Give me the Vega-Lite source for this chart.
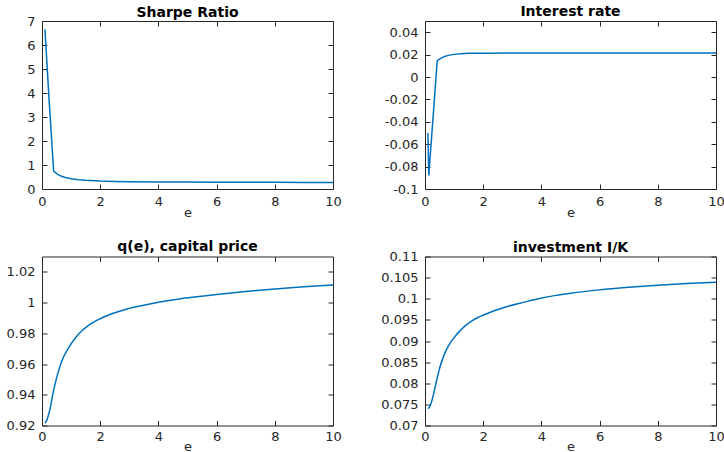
{
  "$schema": "https://vega.github.io/schema/vega-lite/v6.json",
  "padding": {"left": 5, "top": 4, "right": 5, "bottom": 5},
  "background": "white",
  "datasets": {
    "sharpe": [
      {"e": 0.1, "v": 6.65}, {"e": 0.25, "v": 3.6}, {"e": 0.4, "v": 0.75}, {"e": 0.5, "v": 0.64},
      {"e": 0.6, "v": 0.57}, {"e": 0.7, "v": 0.52}, {"e": 0.8, "v": 0.48}, {"e": 1.0, "v": 0.43},
      {"e": 1.25, "v": 0.39}, {"e": 1.5, "v": 0.36}, {"e": 2.0, "v": 0.33}, {"e": 2.5, "v": 0.315},
      {"e": 3.0, "v": 0.305}, {"e": 4.0, "v": 0.295}, {"e": 5.0, "v": 0.29}, {"e": 6.0, "v": 0.285},
      {"e": 7.0, "v": 0.28}, {"e": 8.0, "v": 0.278}, {"e": 9.0, "v": 0.275}, {"e": 10.0, "v": 0.273}
    ],
    "rate": [
      {"e": 0.1, "v": -0.05}, {"e": 0.13, "v": -0.088}, {"e": 0.42, "v": 0.0145}, {"e": 0.5, "v": 0.016},
      {"e": 0.6, "v": 0.0175}, {"e": 0.7, "v": 0.0185}, {"e": 0.8, "v": 0.0193}, {"e": 1.0, "v": 0.0202},
      {"e": 1.25, "v": 0.0208}, {"e": 1.5, "v": 0.0211}, {"e": 2.0, "v": 0.0213}, {"e": 3.0, "v": 0.0214},
      {"e": 4.0, "v": 0.0215}, {"e": 6.0, "v": 0.0215}, {"e": 8.0, "v": 0.0215}, {"e": 10.0, "v": 0.0215}
    ],
    "q": [
      {"e": 0.1, "v": 0.9215}, {"e": 0.15, "v": 0.9228}, {"e": 0.27, "v": 0.9303}, {"e": 0.38, "v": 0.9411},
      {"e": 0.5, "v": 0.9508}, {"e": 0.67, "v": 0.9615}, {"e": 0.9, "v": 0.9701}, {"e": 1.13, "v": 0.9766},
      {"e": 1.36, "v": 0.9815}, {"e": 1.6, "v": 0.9852}, {"e": 2.0, "v": 0.9895}, {"e": 2.4, "v": 0.9927},
      {"e": 2.87, "v": 0.9955}, {"e": 3.33, "v": 0.9976}, {"e": 4.0, "v": 1.0002}, {"e": 4.72, "v": 1.0024},
      {"e": 5.41, "v": 1.0039}, {"e": 6.0, "v": 1.0052}, {"e": 7.0, "v": 1.0072}, {"e": 8.0, "v": 1.0089},
      {"e": 9.0, "v": 1.0103}, {"e": 10.0, "v": 1.0115}
    ],
    "inv": [
      {"e": 0.1, "v": 0.074}, {"e": 0.15, "v": 0.0743}, {"e": 0.25, "v": 0.0762}, {"e": 0.37, "v": 0.0798},
      {"e": 0.5, "v": 0.0835}, {"e": 0.65, "v": 0.0866}, {"e": 0.8, "v": 0.0888}, {"e": 1.0, "v": 0.0908},
      {"e": 1.2, "v": 0.0924}, {"e": 1.4, "v": 0.0937}, {"e": 1.6, "v": 0.0947}, {"e": 1.8, "v": 0.0955},
      {"e": 2.0, "v": 0.0961}, {"e": 2.4, "v": 0.0972}, {"e": 2.8, "v": 0.0981}, {"e": 3.3, "v": 0.099},
      {"e": 3.9, "v": 0.1}, {"e": 4.5, "v": 0.1008}, {"e": 5.0, "v": 0.1013}, {"e": 6.0, "v": 0.1021},
      {"e": 7.0, "v": 0.1027}, {"e": 8.0, "v": 0.1032}, {"e": 9.0, "v": 0.1036}, {"e": 10.0, "v": 0.1039}
    ]
  },
  "columns": 2,
  "spacing": {"row": 19.5, "column": 38},
  "concat": [
    {
      "title": {"text": "Sharpe Ratio", "offset": -4.5},
      "width": 291, "height": 168,
      "data": {"name": "sharpe"},
      "layer": [
        {"mark": {"type": "line"}, "encoding": {
          "x": {"field": "e", "type": "quantitative", "scale": {"domain": [0, 10], "nice": false}, "axis": {"values": [0, 2, 4, 6, 8, 10], "title": "e", "labelPadding": 11, "titlePadding": -2, "labelExpr": "'' + datum.value"}},
          "y": {"field": "v", "type": "quantitative", "scale": {"domain": [0, 7], "nice": false, "zero": false}, "axis": {"values": [0, 1, 2, 3, 4, 5, 6, 7], "title": null, "labelPadding": 12, "labelExpr": "'' + datum.value"}}}},
        {"mark": {"type": "line", "opacity": 0}, "encoding": {
          "x": {"field": "e", "type": "quantitative", "scale": {"domain": [0, 10], "nice": false}, "axis": {"orient": "top", "values": [0, 2, 4, 6, 8, 10], "labels": false, "title": null}},
          "y": {"field": "v", "type": "quantitative", "scale": {"domain": [0, 7], "nice": false, "zero": false}, "axis": {"orient": "right", "values": [0, 1, 2, 3, 4, 5, 6, 7], "labels": false, "title": null}}}}
      ],
      "resolve": {"axis": {"x": "independent", "y": "independent"}}
    },
    {
      "title": {"text": "Interest rate", "offset": 2},
      "width": 291, "height": 168,
      "data": {"name": "rate"},
      "layer": [
        {"mark": {"type": "line"}, "encoding": {
          "x": {"field": "e", "type": "quantitative", "scale": {"domain": [0, 10], "nice": false}, "axis": {"values": [0, 2, 4, 6, 8, 10], "title": "e", "labelPadding": 11, "titlePadding": -2, "labelExpr": "'' + datum.value"}},
          "y": {"field": "v", "type": "quantitative", "scale": {"domain": [-0.1, 0.05], "nice": false, "zero": false}, "axis": {"values": [-0.1, -0.08, -0.06, -0.04, -0.02, 0, 0.02, 0.04], "title": null, "labelPadding": 12, "labelExpr": "'' + datum.value"}}}},
        {"mark": {"type": "line", "opacity": 0}, "encoding": {
          "x": {"field": "e", "type": "quantitative", "scale": {"domain": [0, 10], "nice": false}, "axis": {"orient": "top", "values": [0, 2, 4, 6, 8, 10], "labels": false, "title": null}},
          "y": {"field": "v", "type": "quantitative", "scale": {"domain": [-0.1, 0.05], "nice": false, "zero": false}, "axis": {"orient": "right", "values": [-0.1, -0.08, -0.06, -0.04, -0.02, 0, 0.02, 0.04], "labels": false, "title": null}}}}
      ],
      "resolve": {"axis": {"x": "independent", "y": "independent"}}
    },
    {
      "title": {"text": "q(e), capital price", "offset": 2},
      "width": 291, "height": 169,
      "data": {"name": "q"},
      "layer": [
        {"mark": {"type": "line", "interpolate": "monotone"}, "encoding": {
          "x": {"field": "e", "type": "quantitative", "scale": {"domain": [0, 10], "nice": false}, "axis": {"values": [0, 2, 4, 6, 8, 10], "title": "e", "labelPadding": 10, "titlePadding": -3, "labelExpr": "'' + datum.value"}},
          "y": {"field": "v", "type": "quantitative", "scale": {"domain": [0.92, 1.03], "nice": false, "zero": false}, "axis": {"values": [0.92, 0.94, 0.96, 0.98, 1, 1.02], "title": null, "labelPadding": 12, "labelExpr": "'' + datum.value"}}}},
        {"mark": {"type": "line", "opacity": 0}, "encoding": {
          "x": {"field": "e", "type": "quantitative", "scale": {"domain": [0, 10], "nice": false}, "axis": {"orient": "top", "values": [0, 2, 4, 6, 8, 10], "labels": false, "title": null}},
          "y": {"field": "v", "type": "quantitative", "scale": {"domain": [0.92, 1.03], "nice": false, "zero": false}, "axis": {"orient": "right", "values": [0.92, 0.94, 0.96, 0.98, 1, 1.02], "labels": false, "title": null}}}}
      ],
      "resolve": {"axis": {"x": "independent", "y": "independent"}}
    },
    {
      "title": {"text": "investment I/K", "offset": -4.5},
      "width": 291, "height": 169,
      "data": {"name": "inv"},
      "layer": [
        {"mark": {"type": "line", "interpolate": "monotone"}, "encoding": {
          "x": {"field": "e", "type": "quantitative", "scale": {"domain": [0, 10], "nice": false}, "axis": {"values": [0, 2, 4, 6, 8, 10], "title": "e", "labelPadding": 10, "titlePadding": -3, "labelExpr": "'' + datum.value"}},
          "y": {"field": "v", "type": "quantitative", "scale": {"domain": [0.07, 0.11], "nice": false, "zero": false}, "axis": {"values": [0.07, 0.075, 0.08, 0.085, 0.09, 0.095, 0.1, 0.105, 0.11], "title": null, "labelPadding": 12, "labelExpr": "'' + datum.value"}}}},
        {"mark": {"type": "line", "opacity": 0}, "encoding": {
          "x": {"field": "e", "type": "quantitative", "scale": {"domain": [0, 10], "nice": false}, "axis": {"orient": "top", "values": [0, 2, 4, 6, 8, 10], "labels": false, "title": null}},
          "y": {"field": "v", "type": "quantitative", "scale": {"domain": [0.07, 0.11], "nice": false, "zero": false}, "axis": {"orient": "right", "values": [0.07, 0.075, 0.08, 0.085, 0.09, 0.095, 0.1, 0.105, 0.11], "labels": false, "title": null}}}}
      ],
      "resolve": {"axis": {"x": "independent", "y": "independent"}}
    }
  ],
  "config": {
    "font": "DejaVu Sans",
    "view": {"stroke": "#262626", "strokeWidth": 1},
    "axis": {
      "domain": false, "grid": false, "tickSize": -5, "tickColor": "#262626", "tickWidth": 1,
      "labelFont": "DejaVu Sans", "labelFontSize": 13, "labelColor": "#262626", "labelFlush": false, "labelOverlap": false,
      "titleFont": "DejaVu Sans", "titleFontSize": 13, "titleFontWeight": "normal", "titleColor": "#262626"
    },
    "title": {"font": "DejaVu Sans", "fontSize": 14, "fontWeight": "bold", "color": "#000000", "anchor": "middle"},
    "line": {"color": "#0072BD", "strokeWidth": 1.5}
  }
}
